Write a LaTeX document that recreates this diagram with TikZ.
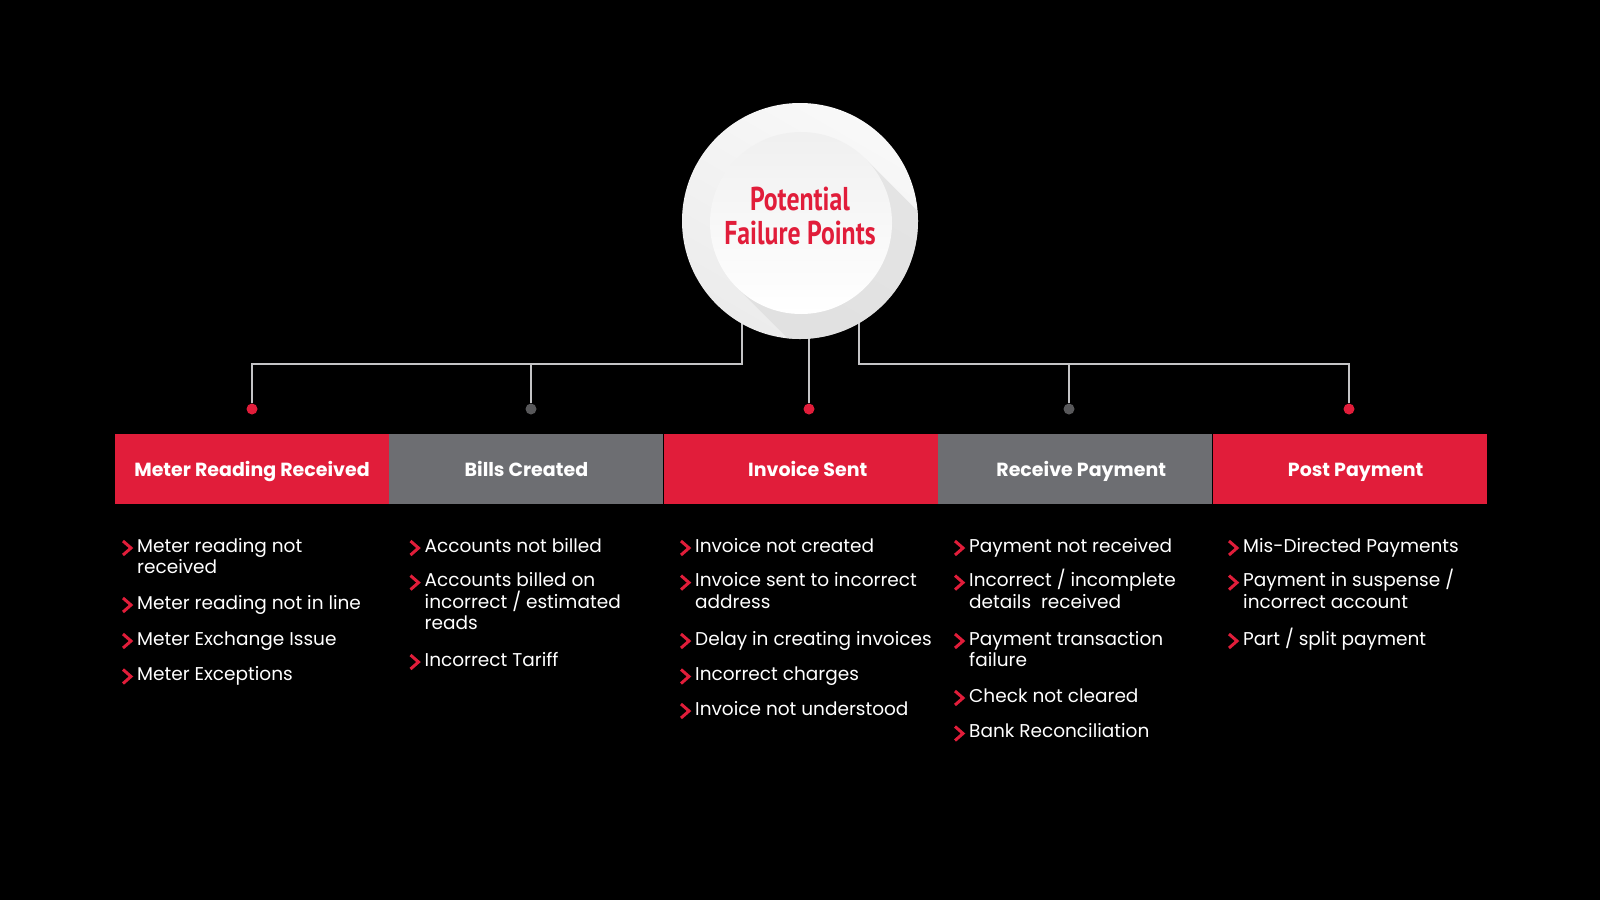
\documentclass[tikz,border=0pt]{standalone}
\usepackage{fontspec}
\setmainfont{Poppins}
\newfontfamily\ttlfont[FakeStretch=0.78]{PT Sans}
\usetikzlibrary{positioning}

\definecolor{fpred}{RGB}{225,29,58}
\definecolor{fpgray}{RGB}{109,110,114}
\definecolor{dotgray}{RGB}{88,88,90}
\definecolor{wiregray}{RGB}{196,196,198}

\tikzset{
  stage/.style = {rectangle, minimum width=274pt, minimum height=70pt, inner sep=0pt,
                  text height=15pt, text depth=0pt,
                  text=white, font=\fontsize{19}{22}\selectfont\bfseries},
  dot/.style   = {circle, minimum size=11pt, inner sep=0pt},
  wire/.style  = {wiregray, line width=1.4pt},
  item/.style  = {anchor=base west, align=left, inner sep=0pt, text=white,
                  font=\fontsize{18.5}{21.4}\selectfont},
  chev/.style  = {fpred, line width=3pt, miter limit=10}
}

\begin{document}
\begin{tikzpicture}[x=1pt, y=-1pt]
  \fill[black] (0,0) rectangle (1600,900);
  \useasboundingbox (0,0) rectangle (1600,900);

  \node[dot, fill=fpred]   (d1) at (252,409) {};
  \node[dot, fill=dotgray] (d2) at (531,409) {};
  \node[dot, fill=fpred]   (d3) at (809,409) {};
  \node[dot, fill=dotgray] (d4) at (1069,409) {};
  \node[dot, fill=fpred]   (d5) at (1349,409) {};

  \coordinate (jl) at (742,364);
  \coordinate (jr) at (859,364);
  \coordinate (hc) at (800,221);
  \draw[wire] (d1) |- (jl) -- (jl |- hc);
  \draw[wire] (d2) -- (d2 |- jl);
  \draw[wire] (d3) -- (d3 |- hc);
  \draw[wire] (d4) -- (d4 |- jr);
  \draw[wire] (d5) |- (jr) -- (jr |- hc);

  \node[circle, minimum size=236pt, inner sep=0pt, top color=white!95!gray,
        bottom color=white!85!gray, shading angle=-30] (hub) at (hc) {};
  \begin{scope}
    \clip (hc) circle (118);
    \fill[white!70!gray, opacity=0.6] (865.3,158.7) -- (1015.3,308.7) -- (886.7,437.3) -- (736.7,287.3) -- cycle;
  \end{scope}
  \node[circle, minimum size=182pt, inner sep=0pt, top color=white!88!gray,
        bottom color=white] (core) at (801,223) {};
  \node[align=center, text=fpred, inner sep=0pt,
        font=\fontsize{33}{33.3}\selectfont\ttlfont\bfseries] (title) at (800,216)
        {Potential\\Failure Points};

  \node[stage, fill=fpred]  (s1) at (252,468.5) {Meter Reading Received};
  \node[stage, fill=fpgray, right=0pt of s1] (s2) {Bills Created};
  \node[stage, fill=fpred,  right=0pt of s2] (s3) {\hspace{14pt}Invoice Sent};
  \node[stage, fill=fpgray, right=0pt of s3] (s4) {\hspace{12pt}Receive Payment};
  \node[stage, fill=fpred,  right=0pt of s4] (s5) {\hspace{12pt}Post Payment};

  % y = baseline of an item's last line, z = its first line
  \foreach \x/\col/\list in {
      137/a/{573.4/552/{Meter reading not\\received}, 609/609/{Meter reading not in line}, 645/645/{Meter Exchange Issue}, 680.5/680.5/{Meter Exceptions}},
      424.5/b/{552/552/{Accounts not billed}, 629.4/586.6/{Accounts billed on\\incorrect / estimated\\reads}, 666/666/{Incorrect Tariff}},
      695/c/{552/552/{Invoice not created}, 608/586.6/{Invoice sent to incorrect\\address}, 645/645/{Delay in creating invoices}, 680.5/680.5/{Incorrect charges}, 715/715/{Invoice not understood}},
      969/d/{552/552/{Payment not received}, 608/586.6/{Incorrect / incomplete\\details\ \ received}, 666.4/645/{Payment transaction\\failure}, 702/702/{Check not cleared}, 737.5/737.5/{Bank Reconciliation}},
      1243/e/{552/552/{Mis-Directed Payments}, 608/586.6/{Payment in suspense /\\incorrect account}, 645/645/{Part / split payment}}}
  {
    \foreach \y/\z/\t [count=\i] in \list {
      \node[item] (\col\i) at (\x,\y) {\t};
      \draw[chev] ({\x-14},{\z-11}) -- ++(8,7) -- ++(-8,7);
    }
  }
\end{tikzpicture}
\end{document}
